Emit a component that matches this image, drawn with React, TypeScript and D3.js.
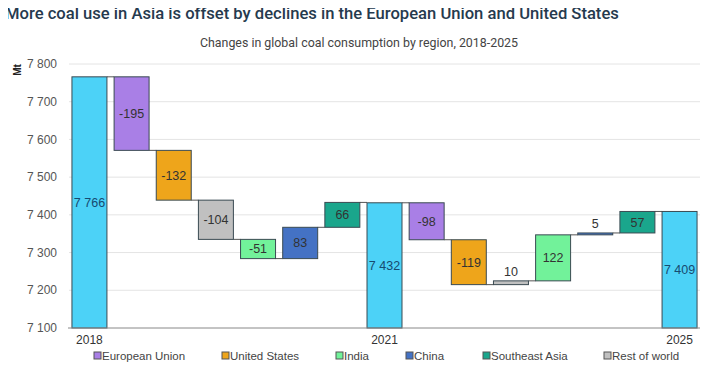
import { useEffect, useRef } from "react";
import * as d3 from "d3";

// bar order, left to right
const steps = [
  "2018", "European Union", "United States", "Rest of world", "India", "China", "Southeast Asia",
  "2021", "European Union", "United States", "Rest of world", "India", "China", "Southeast Asia",
  "2025",
];
// totals hold the level, the rest hold the change (Mt)
const values = [7766, -195, -132, -104, -51, 83, 66, 7432, -98, -119, 10, 122, 5, 57, 7409];
const totals = ["2018", "2021", "2025"];

const legendItems = ["European Union", "United States", "India", "China", "Southeast Asia", "Rest of world"];
const colors: Record<string, string> = {
  "European Union": "#a97fe6",
  "United States": "#eea51b",
  India: "#72f29a",
  China: "#4472c4",
  "Southeast Asia": "#1aa68c",
  "Rest of world": "#c0c0c0",
  total: "#4cd2f7",
};
const yTicks = [7100, 7200, 7300, 7400, 7500, 7600, 7700, 7800];

const fmt = (v: number) => {
  const s = String(Math.abs(v));
  const body = s.length > 3 ? s.slice(0, s.length - 3) + " " + s.slice(-3) : s;
  return (v < 0 ? "-" : "") + body;
};

export default function App() {
  const svgRef = useRef<SVGSVGElement>(null);

  useEffect(() => {
    const svg = d3.select(svgRef.current);
    svg.selectAll("*").remove();

    const width = 709;
    const height = 370;
    const left = 69;
    const right = 700;

    // running level for each bar
    let level = 0;
    const bars = steps.map((name, i) => {
      const v = values[i];
      const total = totals.includes(name);
      let y0: number, y1: number;
      if (total) {
        y0 = 7100;
        y1 = v;
        level = v;
      } else {
        y0 = level;
        y1 = level + v;
        level = y1;
      }
      return { i, name, v, total, y0, y1 };
    });

    const x = d3
      .scaleBand<number>()
      .domain(bars.map((d) => d.i))
      .range([left, right])
      .paddingInner(0.17)
      .paddingOuter(0.07);

    const y = d3.scaleLinear().domain([7100, 7800]).range([328, 64]);

    svg.attr("width", width).attr("height", height).style("display", "block");

    svg
      .append("text")
      .attr("x", 5)
      .attr("y", 19)
      .attr("fill", "#263a4e")
      .attr("font-family", "Roboto, sans-serif")
      .attr("font-size", 16.6)
      .attr("font-weight", 500)
      .text("More coal use in Asia is offset by declines in the European Union and United States");

    svg
      .append("text")
      .attr("x", 359)
      .attr("y", 47)
      .attr("text-anchor", "middle")
      .attr("fill", "#444")
      .attr("font-family", "Roboto, sans-serif")
      .attr("font-size", 12.4)
      .text("Changes in global coal consumption by region, 2018-2025");

    // grid
    svg
      .append("g")
      .selectAll("line")
      .data(yTicks.slice(1))
      .enter()
      .append("line")
      .attr("x1", left)
      .attr("x2", right)
      .attr("y1", (d) => y(d))
      .attr("y2", (d) => y(d))
      .attr("stroke", "#e4e4e4");

    svg
      .append("g")
      .selectAll("text")
      .data(yTicks)
      .enter()
      .append("text")
      .attr("x", 57)
      .attr("y", (d) => y(d))
      .attr("dy", "0.35em")
      .attr("text-anchor", "end")
      .attr("fill", "#555")
      .attr("font-family", "Liberation Sans, Arial, sans-serif")
      .attr("font-size", 12)
      .text((d) => fmt(d));

    svg
      .append("text")
      .attr("transform", `translate(21, 70) rotate(-90)`)
      .attr("text-anchor", "middle")
      .attr("fill", "#222")
      .attr("font-family", "Liberation Sans, Arial, sans-serif")
      .attr("font-size", 10)
      .attr("font-weight", "bold")
      .text("Mt");

    // connectors
    svg
      .append("g")
      .selectAll("line")
      .data(bars.slice(0, -1))
      .enter()
      .append("line")
      .attr("x1", (d) => x(d.i)! + x.bandwidth())
      .attr("x2", (d) => x(d.i + 1)!)
      .attr("y1", (d) => y(d.y1))
      .attr("y2", (d) => y(d.y1))
      .attr("stroke", "#555")
      .attr("stroke-width", 1);

    svg
      .append("g")
      .selectAll("rect")
      .data(bars)
      .enter()
      .append("rect")
      .attr("x", (d) => x(d.i)!)
      .attr("width", x.bandwidth())
      .attr("y", (d) => y(Math.max(d.y0, d.y1)))
      .attr("height", (d) => Math.max(1, Math.abs(y(d.y0) - y(d.y1))))
      .attr("fill", (d) => (d.total ? colors.total : colors[d.name]))
      .attr("stroke", "#3a4a52")
      .attr("stroke-width", 1);

    svg
      .append("g")
      .selectAll("text")
      .data(bars)
      .enter()
      .append("text")
      .attr("x", (d) => x(d.i)! + x.bandwidth() / 2)
      .attr("y", (d) => {
        const h = Math.abs(y(d.y0) - y(d.y1));
        if (h < 12) return y(Math.max(d.y0, d.y1)) - 5;
        return (y(d.y0) + y(d.y1)) / 2;
      })
      .attr("dy", (d) => (Math.abs(y(d.y0) - y(d.y1)) < 12 ? 0 : "0.35em"))
      .attr("text-anchor", "middle")
      .attr("fill", (d) => (d.total ? "#174a70" : "#333"))
      .attr("font-family", "Liberation Sans, Arial, sans-serif")
      .attr("font-size", 12.5)
      .text((d) => fmt(d.v));

    // x axis
    svg
      .append("line")
      .attr("x1", left - 1)
      .attr("x2", right)
      .attr("y1", y(7100))
      .attr("y2", y(7100))
      .attr("stroke", "#888");

    svg
      .append("g")
      .selectAll("text")
      .data(bars.filter((d) => d.total))
      .enter()
      .append("text")
      .attr("x", (d) => x(d.i)! + x.bandwidth() / 2)
      .attr("y", 344)
      .attr("text-anchor", "middle")
      .attr("fill", "#333")
      .attr("font-family", "Liberation Sans, Arial, sans-serif")
      .attr("font-size", 12)
      .text((d) => d.name);

    // legend
    const legendX = [94, 222, 336, 406, 483, 604];
    const legend = svg.append("g");
    legend
      .selectAll("g")
      .data(legendItems)
      .enter()
      .append("g")
      .attr("transform", (_, i) => `translate(${legendX[i]}, 360)`)
      .each(function (d) {
        const g = d3.select(this);
        g.append("rect")
          .attr("x", 0)
          .attr("y", -8)
          .attr("width", 7)
          .attr("height", 7)
          .attr("fill", colors[d])
          .attr("stroke", "#555");
        g.append("text")
          .attr("x", 8)
          .attr("y", 0)
          .attr("fill", "#444")
          .attr("font-family", "Liberation Sans, Arial, sans-serif")
          .attr("font-size", 11.5)
          .text(d);
      });
  }, []);

  return (
    <div style={{ margin: -8 }}>
      <svg ref={svgRef}></svg>
    </div>
  );
}
